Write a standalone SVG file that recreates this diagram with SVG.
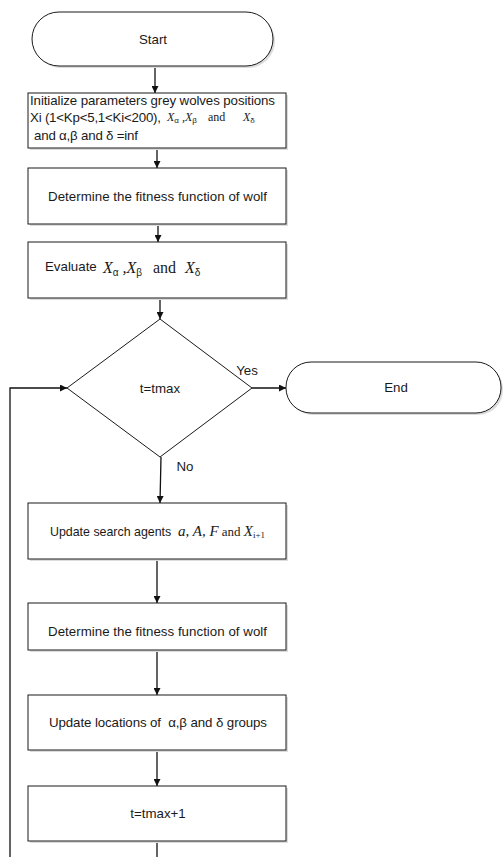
<svg xmlns="http://www.w3.org/2000/svg" width="503" height="857" viewBox="0 0 503 857">
  <style>
    .shape { fill: #ffffff; stroke: #1a1a1a; stroke-width: 1; }
    .shadow { fill: #dcdcdc; stroke: none; }
    .lbl { font-family: "Liberation Sans", Arial, sans-serif; font-size: 13.3px; fill: #1a1a1a; }
    .lbl.small { font-size: 12.4px; }
    .mid { text-anchor: middle; }
    .math { font-family: "Liberation Serif", "Times New Roman", serif; font-style: italic; fill: #1a1a1a; }
    .rom { font-family: "Liberation Serif", "Times New Roman", serif; font-style: normal; }
    .sub { font-family: "Liberation Sans", Arial, sans-serif; font-style: normal; }
    .edge { fill: none; stroke: #111111; stroke-width: 1.3; }
  </style>
  <defs>
    <marker id="arrow" viewBox="0 0 10 10" refX="10" refY="5" markerWidth="7" markerHeight="7" markerUnits="userSpaceOnUse" orient="auto">
      <path d="M0,0 L10,5 L0,10 z" fill="#111111"/>
    </marker>
  </defs>
  <rect width="503" height="857" fill="#ffffff"/>

  <!-- connectors -->
  <g id="connectors">
    <line class="edge" x1="155" y1="66" x2="155" y2="93" marker-end="url(#arrow)"/>
    <line class="edge" x1="157" y1="148" x2="157" y2="168" marker-end="url(#arrow)"/>
    <line class="edge" x1="158" y1="224" x2="158" y2="242" marker-end="url(#arrow)"/>
    <line class="edge" x1="160" y1="298" x2="160" y2="319" marker-end="url(#arrow)"/>
    <line class="edge" x1="252" y1="388" x2="286" y2="388" marker-end="url(#arrow)"/>
    <line class="edge" x1="161" y1="457" x2="160" y2="503" marker-end="url(#arrow)"/>
    <line class="edge" x1="157" y1="559" x2="157" y2="603" marker-end="url(#arrow)"/>
    <line class="edge" x1="157" y1="650" x2="157" y2="695" marker-end="url(#arrow)"/>
    <line class="edge" x1="157" y1="750" x2="157" y2="786" marker-end="url(#arrow)"/>
    <line class="edge" x1="157" y1="841" x2="157" y2="860"/>
    <polyline class="edge" points="10,860 10,388 67,388" marker-end="url(#arrow)"/>
  </g>

  <g id="start">
    <rect class="shadow" x="34" y="14" width="241" height="54" rx="27"/>
    <rect class="shape" x="32" y="12" width="241" height="54" rx="27"/>
    <text class="lbl mid" x="153" y="44">Start</text>
  </g>

  <g id="init">
    <rect class="shadow" x="30" y="95" width="258" height="55"/>
    <rect class="shape" x="28" y="93" width="258" height="55"/>
    <text class="lbl" x="30" y="105" textLength="245">Initialize parameters grey wolves positions</text>
    <text class="lbl" x="30" y="122" textLength="131">Xi (1&lt;Kp&lt;5,1&lt;Ki&lt;200),</text>
    <text class="math" font-size="12" y="121"><tspan x="167">X</tspan><tspan class="sub" font-size="8" dy="2">α</tspan><tspan dy="-2"> ,X</tspan><tspan class="sub" font-size="8" dy="2">β</tspan><tspan class="rom" dy="-2" x="208">and</tspan><tspan x="243">X</tspan><tspan class="sub" font-size="8" dy="2">δ</tspan></text>
    <text class="lbl" x="34" y="140" textLength="104">and α,β and δ =inf</text>
  </g>

  <g id="fitness1">
    <rect class="shadow" x="30" y="170" width="258" height="56"/>
    <rect class="shape" x="28" y="168" width="258" height="56"/>
    <text class="lbl" x="48" y="201" textLength="219">Determine the fitness function of wolf</text>
  </g>

  <g id="evaluate">
    <rect class="shadow" x="30" y="244" width="258" height="56"/>
    <rect class="shape" x="28" y="242" width="258" height="56"/>
    <text class="lbl" x="45" y="271">Evaluate</text>
    <text class="math" font-size="16" y="273"><tspan x="103">X</tspan><tspan class="sub" font-size="10" dy="3">α</tspan><tspan dy="-3"> ,X</tspan><tspan class="sub" font-size="10" dy="3">β</tspan><tspan class="rom" dy="-3" x="153">and</tspan><tspan x="185">X</tspan><tspan class="sub" font-size="10" dy="3">δ</tspan></text>
  </g>

  <g id="decision">
    <polygon class="shape" points="160,319 252,388 160,457 67,388"/>
    <text class="lbl mid" x="160" y="393">t=tmax</text>
    <text class="lbl mid" x="247" y="375">Yes</text>
    <text class="lbl mid" x="185" y="471">No</text>
  </g>

  <g id="end">
    <rect class="shadow" x="288" y="364" width="215" height="51" rx="25"/>
    <rect class="shape" x="286" y="362" width="215" height="51" rx="25"/>
    <text class="lbl mid" x="396" y="392">End</text>
  </g>

  <g id="update-agents">
    <rect class="shadow" x="30" y="505" width="258" height="56"/>
    <rect class="shape" x="28" y="503" width="258" height="56"/>
    <text class="lbl small" x="50" y="536">Update search agents</text>
    <text class="math" font-size="15" y="536"><tspan x="178">a, A, F</tspan><tspan class="rom" font-size="13"> and </tspan><tspan>X</tspan><tspan class="rom" font-size="9" dy="2">i+1</tspan></text>
  </g>

  <g id="fitness2">
    <rect class="shadow" x="30" y="605" width="258" height="47"/>
    <rect class="shape" x="28" y="603" width="258" height="47"/>
    <text class="lbl" x="48" y="636" textLength="219">Determine the fitness function of wolf</text>
  </g>

  <g id="update-locations">
    <rect class="shadow" x="30" y="697" width="258" height="55"/>
    <rect class="shape" x="28" y="695" width="258" height="55"/>
    <text class="lbl" x="49" y="727" textLength="218" xml:space="preserve">Update locations of  α,β and δ groups</text>
  </g>

  <g id="increment">
    <rect class="shadow" x="30" y="788" width="258" height="55"/>
    <rect class="shape" x="28" y="786" width="258" height="55"/>
    <text class="lbl mid" x="158" y="818">t=tmax+1</text>
  </g>
</svg>
